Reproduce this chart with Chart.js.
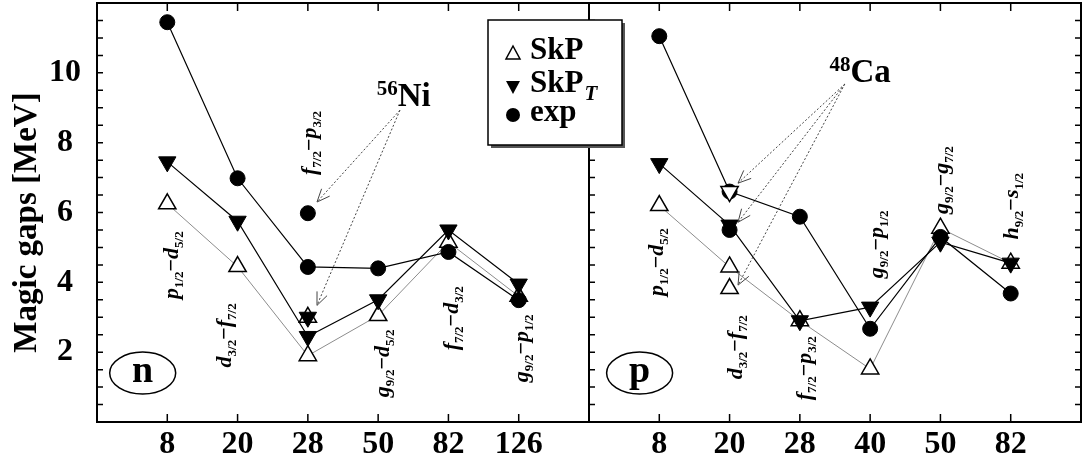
<!DOCTYPE html>
<html lang="en">
<head>
<meta charset="UTF-8">
<title>Magic gaps</title>
<script src="https://cdn.jsdelivr.net/npm/chart.js"></script>
<style>
    html, body { margin: 0; padding: 0; background: #fff; }
    canvas { display: block; }
</style>
</head>
<body>
<canvas id="gapChart" width="1085" height="462"></canvas>
<script>
// magic numbers, neutrons (left panel) and protons (right panel)
var nCats = ['8', '20', '28', '50', '82', '126'];
var pCats = ['8', '20', '28', '40', '50', '82'];

var nSkP  = [6.25, 4.45, 1.9, 3.05, 5.15, 3.6];
var nSkPT = [7.45, 5.75, 2.45, 3.5, 5.5, 3.95];
var nExp  = [11.45, 6.98, 4.44, 4.4, 4.87, 3.49];

var pSkP  = [6.2, 4.44, 2.9, 1.52, 5.55, 4.55];
var pSkPT = [7.4, 5.64, 2.9, 3.29, 5.15, 4.55];
var pExp  = [11.05, 6.6, 5.88, 2.67, 5.3, 3.68];

// 56Ni gaps (N=28) and 48Ca gaps (Z=20)
var niCat = '28';
var niSkP = [3.0], niSkPT = [3.0], niExp = [5.98];
var caCat = '20';
var caSkP = [3.82], caExp = [5.5], caOpen = [6.6];

// orbital pairs written along each magic number
var nTrans = [['p', '1/2', 'd', '5/2'], ['d', '3/2', 'f', '7/2'], ['f', '7/2', 'p', '3/2'],
              ['g', '9/2', 'd', '5/2'], ['f', '7/2', 'd', '3/2'], ['g', '9/2', 'p', '1/2']];
var pTrans = [['p', '1/2', 'd', '5/2'], ['d', '3/2', 'f', '7/2'], ['f', '7/2', 'p', '3/2'],
              ['g', '9/2', 'p', '1/2'], ['g', '9/2', 'g', '7/2'], ['h', '9/2', 's', '1/2']];

var yTicks = [2, 4, 6, 8, 10];

var SERIF = '"Liberation Serif", "Times New Roman", serif';

// panel offsets on the shared x axis (0..7 neutrons, 7..14 protons)
var N_OFF = 1, P_OFF = 8;

function pts(cats, vals, off) {
    return vals.map(function (v, i) { return { x: i + off, y: v }; });
}
function ptsAt(cats, cat, vals, off) {
    return vals.map(function (v) { return { x: cats.indexOf(cat) + off, y: v }; });
}

var openUp = { pointStyle: 'triangle', pointRotation: 0, pointRadius: 10, pointBackgroundColor: '#fff', pointBorderColor: '#000', pointBorderWidth: 1.5 };
var fillDown = { pointStyle: 'triangle', pointRotation: 180, pointRadius: 10, pointBackgroundColor: '#000', pointBorderColor: '#000', pointBorderWidth: 1 };
var openDown = { pointStyle: 'triangle', pointRotation: 180, pointRadius: 10, pointBackgroundColor: '#fff', pointBorderColor: '#000', pointBorderWidth: 1.5 };
var dot = { pointStyle: 'circle', pointRadius: 7.5, pointBackgroundColor: '#000', pointBorderColor: '#000', pointBorderWidth: 1 };

function ds(label, data, marker, line, order) {
    var d = { label: label, data: data, order: order, pointHoverRadius: marker.pointRadius };
    Object.keys(marker).forEach(function (k) { d[k] = marker[k]; });
    if (line) {
        d.showLine = true;
        d.borderColor = line.color;
        d.borderWidth = line.width;
    } else {
        d.showLine = false;
        d.borderColor = '#000';
    }
    return d;
}

var grayLine = { color: '#8c8c8c', width: 1 };
var blackLine = { color: '#000', width: 1.2 };

var datasets = [
    ds('SkP', pts(nCats, nSkP, N_OFF), openUp, grayLine, 3),
    ds('SkP_T', pts(nCats, nSkPT, N_OFF), fillDown, blackLine, 2),
    ds('exp', pts(nCats, nExp, N_OFF), dot, blackLine, 1),
    ds('SkP p', pts(pCats, pSkP, P_OFF), openUp, grayLine, 3),
    ds('SkP_T p', pts(pCats, pSkPT, P_OFF), fillDown, blackLine, 2),
    ds('exp p', pts(pCats, pExp, P_OFF), dot, blackLine, 1),
    ds('56Ni SkP', ptsAt(nCats, niCat, niSkP, N_OFF), openUp, null, 3),
    ds('56Ni SkP_T', ptsAt(nCats, niCat, niSkPT, N_OFF), fillDown, null, 2),
    ds('56Ni exp', ptsAt(nCats, niCat, niExp, N_OFF), dot, null, 1),
    ds('48Ca SkP', ptsAt(pCats, caCat, caSkP, P_OFF), openUp, null, 3),
    ds('48Ca exp', ptsAt(pCats, caCat, caExp, P_OFF), dot, null, 1),
    ds('48Ca open', ptsAt(pCats, caCat, caOpen, P_OFF), openDown, null, 0)
];

// draw a label with subscripts, rotated so it reads upward
function orbitalLabel(ctx, parts, cx, cy) {
    var big = 'italic bold 22px ' + SERIF;
    var small = 'bold 13px ' + SERIF;
    var segs = [
        { t: parts[0], f: big, dy: 0 }, { t: parts[1], f: small, dy: 5 },
        { t: '\u2212', f: 'bold 22px ' + SERIF, dy: 0 },
        { t: parts[2], f: big, dy: 0 }, { t: parts[3], f: small, dy: 5 }
    ];
    var w = 0;
    segs.forEach(function (s) { ctx.font = s.f; s.w = ctx.measureText(s.t).width; w += s.w; });
    ctx.save();
    ctx.translate(cx, cy);
    ctx.rotate(-Math.PI / 2);
    ctx.fillStyle = '#000';
    ctx.textBaseline = 'alphabetic';
    var x = -w / 2;
    segs.forEach(function (s) {
        ctx.font = s.f;
        ctx.fillText(s.t, x, 6 + s.dy);
        x += s.w;
    });
    ctx.restore();
}

function dottedArrow(ctx, x0, y0, x1, y1) {
    ctx.save();
    ctx.strokeStyle = '#444';
    ctx.lineWidth = 1;
    ctx.setLineDash([2, 2]);
    ctx.beginPath();
    ctx.moveTo(x0, y0);
    ctx.lineTo(x1, y1);
    ctx.stroke();
    ctx.setLineDash([]);
    var a = Math.atan2(y1 - y0, x1 - x0);
    ctx.beginPath();
    ctx.moveTo(x1 - 14 * Math.cos(a - 0.4), y1 - 14 * Math.sin(a - 0.4));
    ctx.lineTo(x1, y1);
    ctx.lineTo(x1 - 14 * Math.cos(a + 0.4), y1 - 14 * Math.sin(a + 0.4));
    ctx.stroke();
    ctx.restore();
}

function nucleus(ctx, mass, sym, x, y) {
    ctx.save();
    ctx.fillStyle = '#000';
    ctx.textBaseline = 'alphabetic';
    ctx.font = 'bold 21px ' + SERIF;
    ctx.fillText(mass, x, y - 11);
    var w = ctx.measureText(mass).width;
    ctx.font = 'bold 33px ' + SERIF;
    ctx.fillText(sym, x + w, y);
    ctx.restore();
}

function noPad(s) {
    s.paddingTop = 0;
    s.paddingBottom = 0;
    s.paddingLeft = 0;
    s.paddingRight = 0;
}

var framePlugin = {
    id: 'frame',
    beforeDatasetsDraw: function (chart) {
        var ctx = chart.ctx, a = chart.chartArea;
        var xs = chart.scales.x, ys = chart.scales.y;
        var mid = xs.getPixelForValue(7);
        ctx.save();
        ctx.strokeStyle = '#000';
        ctx.lineWidth = 2;
        ctx.strokeRect(a.left, a.top, a.right - a.left, a.bottom - a.top);
        ctx.beginPath();
        ctx.moveTo(mid, a.top);
        ctx.lineTo(mid, a.bottom);
        ctx.stroke();
        ctx.lineWidth = 1.5;
        ctx.beginPath();
        for (var v = 0.5; v < 12; v += 0.5) {
            var py = ys.getPixelForValue(v);
            ctx.moveTo(a.left, py); ctx.lineTo(a.left + 6, py);
            ctx.moveTo(mid, py); ctx.lineTo(mid + 6, py);
            ctx.moveTo(a.right, py); ctx.lineTo(a.right - 6, py);
        }
        for (var i = 0; i < 6; i++) {
            [N_OFF + i, P_OFF + i].forEach(function (xv) {
                var px = xs.getPixelForValue(xv);
                ctx.moveTo(px, a.bottom); ctx.lineTo(px, a.bottom - 8);
                ctx.moveTo(px, a.top); ctx.lineTo(px, a.top + 8);
            });
        }
        ctx.stroke();
        ctx.restore();
    },
    afterDatasetsDraw: function (chart) {
        var ctx = chart.ctx;
        var xs = chart.scales.x, ys = chart.scales.y;
        function X(v) { return xs.getPixelForValue(v); }
        function Y(v) { return ys.getPixelForValue(v); }

        // orbital labels, placed next to each magic number
        var nPos = [[0.07, 4.49], [-0.18, 2.48], [0.03, 7.99], [0.07, 1.68], [0.05, 2.97], [0.05, 2.11]];
        var pPos = [[-0.03, 4.58], [0.09, 2.14], [0.07, 1.54], [0.1, 5.09], [0.02, 6.93], [0.02, 6.18]];
        nTrans.forEach(function (t, i) { orbitalLabel(ctx, t, X(N_OFF + i + nPos[i][0]), Y(nPos[i][1])); });
        pTrans.forEach(function (t, i) { orbitalLabel(ctx, t, X(P_OFF + i + pPos[i][0]), Y(pPos[i][1])); });

        // 56Ni and 48Ca pointers
        nucleus(ctx, '56', 'Ni', X(3.98), Y(9.06));
        dottedArrow(ctx, X(4.31), Y(8.93), X(3.13), Y(6.3));
        dottedArrow(ctx, X(4.31), Y(8.93), X(3.13), Y(3.34));
        nucleus(ctx, '48', 'Ca', X(10.42), Y(9.73));
        dottedArrow(ctx, X(10.64), Y(9.68), X(9.12), Y(6.84));
        dottedArrow(ctx, X(10.64), Y(9.68), X(9.12), Y(5.72));
        dottedArrow(ctx, X(10.64), Y(9.68), X(9.12), Y(3.92));

        // panel tags
        [['n', 0.65], ['p', 7.72]].forEach(function (tag) {
            var cx = X(tag[1]), cy = Y(1.4);
            ctx.save();
            ctx.lineWidth = 1.5;
            ctx.strokeStyle = '#000';
            ctx.beginPath();
            ctx.ellipse(cx, cy, 33, 21, 0, 0, Math.PI * 2);
            ctx.stroke();
            ctx.fillStyle = '#000';
            ctx.font = 'bold 38px ' + SERIF;
            ctx.textAlign = 'center';
            ctx.textBaseline = 'alphabetic';
            ctx.fillText(tag[0], cx, cy + 9);
            ctx.restore();
        });

        // y axis title
        ctx.save();
        ctx.translate(27, (chart.chartArea.top + chart.chartArea.bottom) / 2 + 10);
        ctx.rotate(-Math.PI / 2);
        ctx.font = 'bold 33px ' + SERIF;
        ctx.fillStyle = '#000';
        ctx.textAlign = 'center';
        ctx.textBaseline = 'middle';
        ctx.fillText('Magic gaps [MeV]', 0, 0);
        ctx.restore();

        // legend box
        var lx = 488, ly = 20, lw = 134, lh = 125;
        ctx.save();
        ctx.fillStyle = '#555';
        ctx.fillRect(lx + 3, ly + 3, lw, lh);
        ctx.fillStyle = '#fff';
        ctx.fillRect(lx, ly, lw, lh);
        ctx.strokeStyle = '#000';
        ctx.lineWidth = 1.5;
        ctx.strokeRect(lx, ly, lw, lh);
        var mx = 513;
        // open up triangle
        ctx.beginPath();
        ctx.moveTo(mx, 46); ctx.lineTo(mx + 7, 59); ctx.lineTo(mx - 7, 59); ctx.closePath();
        ctx.fillStyle = '#fff'; ctx.fill(); ctx.stroke();
        // filled down triangle
        ctx.beginPath();
        ctx.moveTo(mx - 7, 81); ctx.lineTo(mx + 7, 81); ctx.lineTo(mx, 94); ctx.closePath();
        ctx.fillStyle = '#000'; ctx.fill();
        // dot
        ctx.beginPath();
        ctx.arc(mx, 115, 7, 0, Math.PI * 2);
        ctx.fill();
        ctx.font = 'bold 31px ' + SERIF;
        ctx.textBaseline = 'alphabetic';
        ctx.fillText('SkP', 530, 59);
        ctx.fillText('SkP', 530, 92);
        var w = ctx.measureText('SkP').width;
        ctx.font = 'italic bold 21px ' + SERIF;
        ctx.fillText('T', 530 + w + 1, 100);
        ctx.font = 'bold 31px ' + SERIF;
        ctx.fillText('exp', 530, 121);
        ctx.restore();
    }
};

var ctxGap = document.getElementById('gapChart').getContext('2d');
var gapChart = new Chart(ctxGap, {
    type: 'line',
    data: { datasets: datasets },
    options: {
        responsive: false,
        animation: false,
        events: [],
        layout: { autoPadding: false, padding: { top: 3, right: 4, left: 0, bottom: 0 } },
        plugins: { legend: { display: false }, tooltip: { enabled: false } },
        scales: {
            x: {
                type: 'linear',
                min: 0,
                max: 14,
                afterFit: function (s) { s.height = 40; noPad(s); },
                afterBuildTicks: function (s) {
                    s.ticks = [];
                    for (var i = 0; i < 6; i++) {
                        s.ticks.push({ value: N_OFF + i });
                        s.ticks.push({ value: P_OFF + i });
                    }
                    s.ticks.sort(function (a, b) { return a.value - b.value; });
                },
                ticks: {
                    autoSkip: false,
                    maxRotation: 0,
                    padding: -4,
                    color: '#000',
                    font: { family: SERIF, weight: 'bold', size: 32 },
                    callback: function (v) {
                        if (v >= N_OFF && v < N_OFF + 6) return nCats[v - N_OFF];
                        if (v >= P_OFF && v < P_OFF + 6) return pCats[v - P_OFF];
                        return '';
                    }
                },
                grid: { display: false },
                border: { display: false }
            },
            y: {
                min: 0,
                max: 12,
                afterFit: function (s) { s.width = 97; noPad(s); },
                afterBuildTicks: function (s) {
                    s.ticks = yTicks.map(function (v) { return { value: v }; });
                },
                ticks: {
                    autoSkip: false,
                    padding: 8,
                    crossAlign: 'center',
                    color: '#000',
                    font: { family: SERIF, weight: 'bold', size: 32 }
                },
                grid: { display: false },
                border: { display: false }
            }
        }
    },
    plugins: [framePlugin]
});
</script>
</body>
</html>
